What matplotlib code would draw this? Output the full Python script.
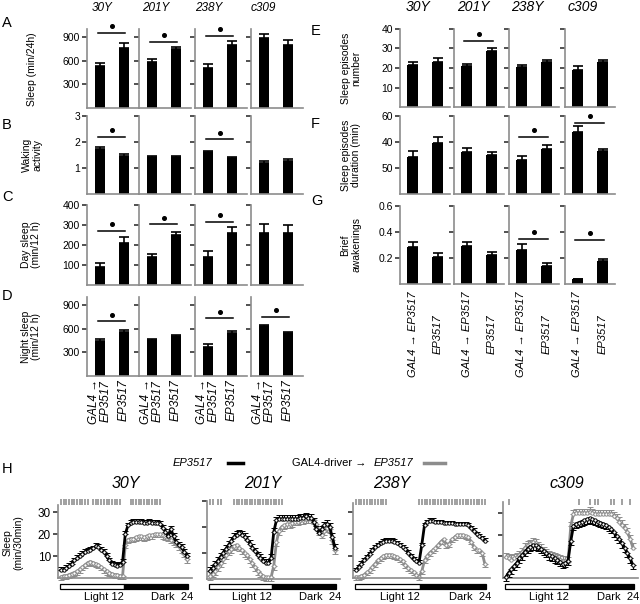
import numpy as np
import matplotlib
matplotlib.use("Agg")
import matplotlib.pyplot as plt
import matplotlib.transforms as mtransforms
from matplotlib.lines import Line2D
from matplotlib.patches import Rectangle

plt.rcParams['font.family'] = ['Liberation Sans', 'DejaVu Sans']

FW, FH = 640, 604
AX_GREY = '#8c8c8c'
SER_GREY = '#8c8c8c'

drivers = ['30Y', '201Y', '238Y', 'c309']

# ---- A-G: one [GAL4->EP3517, EP3517] pair per driver
sleep24 = [[532, 763], [580, 747], [502, 798], [890, 798]]
sleep24_err = [[42, 56], [40, 30], [60, 54], [45, 60]]
sleep24_sig = [950, 840, 910, None]

waking = [[1.73, 1.45], [1.42, 1.43], [1.62, 1.38], [1.19, 1.28]]
waking_err = [[0.07, 0.1], [0.05, 0.05], [0.05, 0.05], [0.08, 0.05]]
waking_sig = [2.2, None, 2.1, None]

day_sleep = [[92, 212], [138, 250], [142, 258], [262, 262]]
day_sleep_err = [[17, 30], [17, 17], [28, 30], [43, 38]]
day_sleep_sig = [271, 303, 316, None]

night_sleep = [[440, 560], [450, 510], [370, 545], [635, 540]]
night_sleep_err = [[25, 20], [20, 15], [30, 20], [10, 20]]
night_sleep_sig = [690, None, 730, 750]

ep_number = [[21.4, 23.2], [21, 28.7], [20.5, 23], [19, 23.3]]
ep_number_err = [[1.8, 2], [1.2, 1.6], [1, 1], [2, 0.8]]
ep_number_sig = [None, 33.8, None, None]

ep_duration = [[28.7, 39], [32.5, 30], [26, 35], [48, 33]]
ep_duration_err = [[4, 5], [3, 2.5], [3.5, 2.5], [4, 2]]
ep_duration_sig = [None, None, 44, 55]

awakenings = [[0.283, 0.21], [0.29, 0.22], [0.265, 0.14], [0.035, 0.175]]
awakenings_err = [[0.04, 0.03], [0.03, 0.025], [0.045, 0.02], [0.006, 0.02]]
awakenings_sig = [None, None, 0.35, 0.34]

# ---- H: sleep per 30 min bin (48 bins, light 0-12 h, dark 12-24 h)
h30_ep = [3.5, 3.8, 4.5, 5.5, 6.5, 8, 9, 10, 11, 12, 12.5, 13, 13.5, 14.5, 14, 13,
          12, 10, 8, 6.5, 5.8, 5.5, 6, 7.5,
          20, 24, 25, 25.5, 25.5, 25.5, 25.5, 25, 25, 25.5, 25, 25, 25, 24.5, 23, 21,
          19, 22.5, 19, 16.5, 15, 14, 12, 10]
h30_gal = [0.5, 1, 1, 1.5, 2, 2.5, 3, 4, 5, 6, 7, 7.5, 7, 6.5, 6, 5, 4, 3, 2.5, 2,
           1.5, 1.5, 1, 1,
           15, 17.5, 18, 18, 18.5, 19, 19, 18.5, 19, 19.5, 19.5, 20, 20, 20, 19.5, 19,
           18.5, 17.5, 16.5, 15.5, 14.5, 13, 11, 8.5]
h201_ep = [3, 4, 5.5, 7, 8.5, 10, 11.5, 13, 14.5, 16, 17, 17.5, 17, 16, 15, 13.5,
           12, 10.5, 9, 8, 7, 6, 6, 8,
           18, 22.5, 23, 23, 23, 23, 23, 23, 23, 23, 23.5, 23.5, 24, 23.5, 23.5, 22,
           19, 17.5, 19, 20.5, 21, 20, 16, 12]
h201_gal = [1, 2, 3, 4.5, 6, 7.5, 9, 10.5, 11.5, 12.5, 13, 12, 11, 10, 9, 7.5, 6,
            4.5, 3, 2, 1, 0.5, 0.5, 0.5,
            5, 14, 18.5, 20, 20.5, 21, 21, 21.5, 22, 22, 22.5, 22.5, 23, 23, 23, 22.5,
            21, 18.5, 17, 18.5, 19.5, 19, 15, 11]
h238_ep = [3.5, 5, 6.5, 8, 9.5, 11, 12.5, 14, 15, 16, 16.5, 17, 17, 17, 16.5, 16,
           15, 14, 13, 11.5, 10, 8.5, 7.5, 7,
           15, 24, 25.5, 26, 26, 25.5, 25.5, 25.5, 25, 25, 25, 25, 24.5, 24.5, 24.5,
           24.5, 24.5, 24, 22.5, 21.5, 20, 19, 18, 17]
h238_gal = [0.5, 0.5, 1, 1.5, 2.5, 3.5, 5, 6.5, 8, 9, 10, 10.5, 10.5, 10.5, 10, 9.5,
            8.5, 7.5, 6, 4.5, 3.5, 2.5, 1.5, 0.5,
            3, 8, 10, 11.5, 12.5, 13.5, 15, 16.5, 17.5, 15, 15.5, 17.5, 18.5, 19.5,
            19.5, 19.5, 19, 18.5, 16.5, 14, 12.5, 12.5, 11.5, 6.5]
hc309_ep = [0.5, 2.5, 4, 5.5, 7, 9, 10.5, 12, 13.5, 14.5, 15, 15, 14.5, 13.5, 12.5,
            11.5, 10.5, 10, 9, 8.5, 7.5, 6.5, 7, 8,
            17, 24, 25, 25.5, 26, 26.5, 27, 27.5, 27, 26.5, 26, 25.5, 25, 24.5, 23.5,
            22.5, 21, 19.5, 18, 16, 14, 11.5, 9, 6]
hc309_gal = [9.5, 9, 8.5, 9, 9.5, 10.5, 12, 14, 15, 15.5, 16.5, 16, 14.5, 13.5, 12.5,
             11.5, 10.5, 10, 9.5, 9, 8.5, 8, 8, 7.5,
             24, 29.5, 30, 30, 30, 30, 30, 30.5, 30, 29.5, 29.5, 29.5, 29.5, 29.5,
             29.5, 29.5, 28.5, 27.5, 26, 24.5, 23, 21, 18, 14]
h_err_ep = [1.3, 1.4, 1.0, 2.0]
h_err_gal = [1.5, 1.5, 1.3, 2.0]
h_sig_bins = [list(range(0, 11)) + list(range(12, 23)) + list(range(26, 38)),
              [0, 1, 3, 4] + list(range(9, 28)),
              list(range(0, 12)) + list(range(23, 48)),
              [1, 27, 31, 33, 34, 39, 40, 43, 46]]

fig = plt.figure(figsize=(FW / 100, FH / 100), dpi=100)


def px_axes(x0, x1, ytop, ybot):
    return fig.add_axes([x0 / FW, 1 - ybot / FH, (x1 - x0) / FW, (ybot - ytop) / FH])


def style(ax, labelsize=7.5):
    for s in ('top', 'right'):
        ax.spines[s].set_visible(False)
    for s in ('left', 'bottom'):
        ax.spines[s].set_color(AX_GREY)
        ax.spines[s].set_linewidth(1.2)
    ax.tick_params(axis='y', direction='out', length=3.5, width=1.1,
                   color='#222222', labelsize=labelsize, pad=1.5)
    ax.tick_params(axis='x', length=0)


def fy(y):
    return 1 - y / FH


def bar_row(xs, width, ytop, ybot, xlim, vals, errs, sig, ylim, ticks,
            ticklabels, xlabels=None, xpad=2, xva='top', xsize=8):
    for i, x0 in enumerate(xs):
        ax = px_axes(x0, x0 + width, ytop, ybot)
        ax.bar([0, 1], vals[i], width=0.42, color='black',
               yerr=[[0, 0], errs[i]], capsize=3.5,
               error_kw=dict(elinewidth=1.2, capthick=1.2, ecolor='black'))
        ax.set_xlim(*xlim)
        ax.set_ylim(*ylim)
        ax.set_yticks(ticks)
        ax.set_yticklabels(ticklabels if i == 0 else [])
        style(ax)
        if sig[i] is not None:
            ax.plot([-0.1, 1.05], [sig[i], sig[i]], color='black', lw=1.1, clip_on=False)
            ax.plot([0.48], [sig[i] + 0.085 * ylim[1]], 'o', ms=2.6, color='black',
                    clip_on=False)
        ax.set_xticks([0, 1])
        if xlabels:
            ax.set_xticklabels(xlabels, rotation=90, fontstyle='italic', fontsize=xsize,
                               va=xva, linespacing=1.0)
            ax.tick_params(axis='x', pad=xpad)
        else:
            ax.set_xticklabels([])


# ---- left block A-D
L_X = [87, 139, 195, 251]
L_W = 52
L_XLIM = (-0.54, 1.62)
bar_row(L_X, L_W, 29, 108, L_XLIM, sleep24, sleep24_err, sleep24_sig, (0, 1000),
        [300, 600, 900], ['300', '600', '900'])
bar_row(L_X, L_W, 116, 194, L_XLIM, waking, waking_err, waking_sig, (0, 3),
        [1, 2, 3], ['1', '2', '3'])
bar_row(L_X, L_W, 205, 285, L_XLIM, day_sleep, day_sleep_err, day_sleep_sig, (0, 400),
        [100, 200, 300, 400], ['100', '200', '300', '400'])
bar_row(L_X, L_W, 297, 376, L_XLIM, night_sleep, night_sleep_err, night_sleep_sig,
        (0, 1000), [300, 600, 900], ['300', '600', '900'],
        xlabels=['GAL4 →\nEP3517', 'EP3517'], xpad=2, xsize=8.5)

# ---- right block E-G
R_X = [400, 454, 509, 565]
R_W = 50
R_XLIM = (-0.5, 1.5)
bar_row(R_X, R_W, 29, 107, R_XLIM, ep_number, ep_number_err, ep_number_sig, (0, 40),
        [10, 20, 30, 40], ['10', '20', '30', '40'])
bar_row(R_X, R_W, 116, 194, R_XLIM, ep_duration, ep_duration_err, ep_duration_sig,
        (0, 60), [20, 40, 60], ['50', '40', '60'])
bar_row(R_X, R_W, 206, 284, R_XLIM, awakenings, awakenings_err, awakenings_sig,
        (0, 0.6), [0.2, 0.4, 0.6], ['0.2', '0.4', '0.6'],
        xlabels=['GAL4 → EP3517', 'EP3517'], xpad=36, xva='center', xsize=8)

# column headers
for x, name in zip([92, 142, 195, 251], drivers):
    fig.text(x / FW, fy(8), name, style='italic', fontsize=8.5, ha='left', va='center')
for x, name in zip([418, 473, 527, 583], drivers):
    fig.text(x / FW, fy(7), name, style='italic', fontsize=10, ha='center', va='center')

# y labels
ylab_kw = dict(rotation=90, ha='center', va='center', fontsize=7.5,
               multialignment='center', linespacing=1.1)
fig.text(32 / FW, fy(69), 'Sleep (min/24h)', **ylab_kw)
fig.text(32 / FW, fy(155), 'Waking\nactivity', **ylab_kw)
fig.text(31 / FW, fy(245), 'Day sleep\n(min/12 h)', **ylab_kw)
fig.text(31 / FW, fy(337), 'Night sleep\n(min/12 h)', **ylab_kw)
fig.text(351 / FW, fy(68), 'Sleep episodes\nnumber', **ylab_kw)
fig.text(351 / FW, fy(155), 'Sleep episodes\nduration (min)', **ylab_kw)
fig.text(351 / FW, fy(245), 'Brief\nawakenings', **ylab_kw)
fig.text(13 / FW, fy(543), 'Sleep\n(min/30min)', **ylab_kw)

# panel letters
for letter, x, y in [('A', 2, 23), ('B', 2, 125), ('C', 2, 197), ('D', 2, 296),
                     ('E', 311, 31), ('F', 311, 124), ('G', 311, 201), ('H', 2, 469)]:
    fig.text(x / FW, fy(y), letter, fontsize=10.5, ha='left', va='center')

# ---- H: time courses
hours = np.arange(48) * 0.5 + 0.25
h_ep = [h30_ep, h201_ep, h238_ep, hc309_ep]
h_gal = [h30_gal, h201_gal, h238_gal, hc309_gal]
h_pos = [(58, 192, 505, 578, 33.3), (207, 340, 500.7, 578.7, 30),
         (353, 490, 503, 578, 34), (503, 638, 502, 578, 35)]
h_title_x = [126, 263, 392, 567]
gal_up = [False, False, False, True]

for k in range(4):
    x0, x1, yt, yb, ymax = h_pos[k]
    ax = px_axes(x0, x1, yt, yb)
    n = len(hours)
    zero = np.zeros(n)
    e_ep = np.full(n, h_err_ep[k])
    e_gal = np.full(n, h_err_gal[k])
    if gal_up[k]:
        yerr_gal, yerr_ep = [zero, e_gal], [e_ep, zero]
    else:
        yerr_gal, yerr_ep = [e_gal, zero], [zero, e_ep]
    ax.errorbar(hours, h_gal[k], yerr=yerr_gal, color=SER_GREY, lw=2.0, capsize=2,
                elinewidth=0.9, capthick=0.9, marker='o', ms=2.4, mfc='white',
                mec=SER_GREY, mew=0.7, clip_on=False, zorder=2)
    ax.errorbar(hours, h_ep[k], yerr=yerr_ep, color='black', lw=2.0, capsize=2,
                elinewidth=0.9, capthick=0.9, marker='o', ms=2.4, mfc='white',
                mec='black', mew=0.7, clip_on=False, zorder=3)
    ax.set_xlim(-0.3, 24.7)
    ax.set_ylim(0, ymax)
    ax.set_yticks([10, 20, 30])
    ax.set_yticklabels(['10', '20', '30'] if k == 0 else [])
    ax.set_xticks([])
    style(ax, labelsize=8.5)

    tr = mtransforms.blended_transform_factory(ax.transData, fig.transFigure)
    ax.add_patch(Rectangle((0, fy(589)), 12, 5 / FH, transform=tr, clip_on=False,
                           fc='white', ec='black', lw=0.9))
    ax.add_patch(Rectangle((12, fy(589)), 12, 5 / FH, transform=tr, clip_on=False,
                           fc='black', ec='black', lw=0.9))
    ax.text(11.9, fy(597), 'Light 12', transform=tr, ha='right', va='center',
            fontsize=8)
    ax.text(25.0, fy(597), 'Dark  24', transform=tr, ha='right', va='center',
            fontsize=8)
    sb = h_sig_bins[k]
    ax.plot(hours[sb], [fy(502)] * len(sb), transform=tr, ls='none', marker='|',
            ms=4, mew=1.3, color='#9a9a9a', clip_on=False)
    fig.text(h_title_x[k] / FW, fy(483), drivers[k], style='italic', fontsize=11.5,
             ha='center', va='center')

# legend for H
fig.text(212 / FW, fy(463), 'EP3517', style='italic', fontsize=8, ha='right',
         va='center')
fig.add_artist(Line2D([228 / FW, 243 / FW], [fy(463), fy(463)], color='black', lw=2.5,
                      transform=fig.transFigure))
fig.text(292 / FW, fy(463), 'GAL4-driver →', fontsize=8, ha='left', va='center')
fig.text(374 / FW, fy(463), 'EP3517', style='italic', fontsize=8, ha='left',
         va='center')
fig.add_artist(Line2D([424 / FW, 445 / FW], [fy(463), fy(463)], color=SER_GREY, lw=2.5,
                      transform=fig.transFigure))

fig.savefig('out.png', dpi=100)
